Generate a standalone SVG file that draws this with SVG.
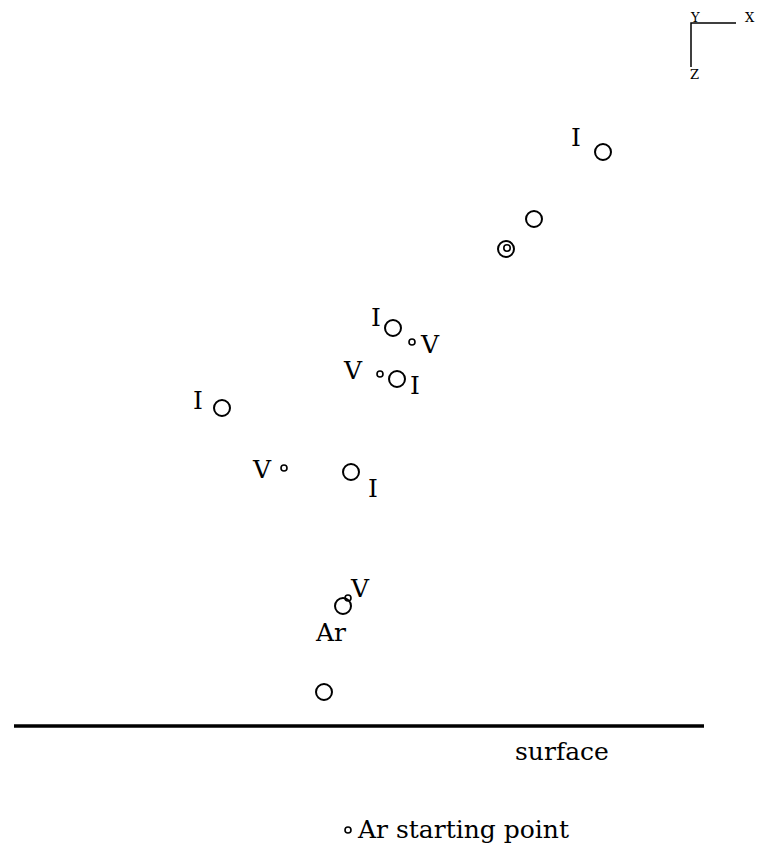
<svg xmlns="http://www.w3.org/2000/svg" width="763" height="849" viewBox="0 0 763 849">
<style>
.t{font-family:"DejaVu Serif","Liberation Serif",serif;font-size:25px;fill:#000}
.a{font-family:"DejaVu Serif","Liberation Serif",serif;font-size:13px;fill:#000}
.big{fill:none;stroke:#000;stroke-width:2}
.sm{fill:none;stroke:#000;stroke-width:1.6}
</style>
<rect width="763" height="849" fill="#fff"/>
<g id="axes">
<path d="M691,67 V23 H736" fill="none" stroke="#000" stroke-width="1.5"/>
<text class="a" x="691" y="22">Y</text>
<text class="a" x="745" y="22">X</text>
<text class="a" x="690" y="79">Z</text>
</g>
<g id="connectors"></g>
<g id="n1"><circle class="big" cx="603" cy="152" r="8"/><text class="t" x="571" y="146">I</text></g>
<g id="n2"><circle class="big" cx="534" cy="219" r="8"/></g>
<g id="n3"><circle class="big" cx="506" cy="249" r="8"/><circle class="sm" cx="507" cy="248" r="3.2"/></g>
<g id="n4"><circle class="big" cx="393" cy="328" r="8"/><text class="t" x="371" y="326">I</text></g>
<g id="n5"><circle class="sm" cx="412" cy="342" r="3"/><text class="t" x="421" y="353">V</text></g>
<g id="n6"><circle class="sm" cx="380" cy="374" r="3"/><text class="t" x="344" y="379">V</text></g>
<g id="n7"><circle class="big" cx="397" cy="379" r="8"/><text class="t" x="410" y="394">I</text></g>
<g id="n8"><circle class="big" cx="222" cy="408" r="8"/><text class="t" x="193" y="409">I</text></g>
<g id="n9"><circle class="sm" cx="284" cy="468" r="3"/><text class="t" x="253" y="478">V</text></g>
<g id="n10"><circle class="big" cx="351" cy="472" r="8"/><text class="t" x="368" y="497">I</text></g>
<g id="n11"><circle class="big" cx="343" cy="606" r="8"/><circle class="sm" cx="348" cy="598" r="3" fill="#fff"/><text class="t" x="351" y="597">V</text></g>
<g id="n12"><text class="t" x="316" y="641">Ar</text></g>
<g id="n13"><circle class="big" cx="324" cy="692" r="8"/></g>
<g id="surface">
<line x1="14" y1="726" x2="704" y2="726" stroke="#000" stroke-width="3.5"/>
<text class="t" x="515" y="760">surface</text>
</g>
<g id="legend">
<circle class="sm" cx="348" cy="830" r="3"/>
<text class="t" x="358" y="838">Ar starting point</text>
</g>
</svg>
